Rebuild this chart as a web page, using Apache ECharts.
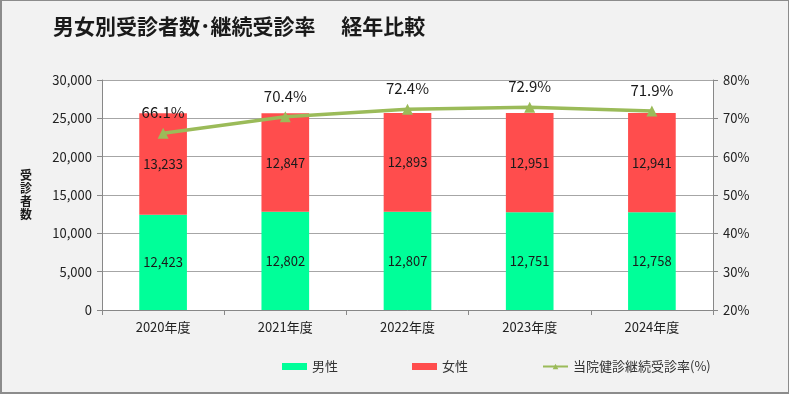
<!DOCTYPE html>
<html><head><meta charset="utf-8">
<script src="https://cdn.jsdelivr.net/npm/echarts@6/dist/echarts.min.js"></script>
<style>
html,body{margin:0;padding:0;background:#f2f2f2;}
#c{width:789px;height:394px;box-sizing:border-box;border:1px solid #8c8c8c;border-left-width:2px;border-bottom-width:2px;background:#f2f2f2;}
</style></head>
<body><div id="c"></div>
<script>
const categories = ['2020年度','2021年度','2022年度','2023年度','2024年度'];
const maleValues = [12423, 12802, 12807, 12751, 12758];
const femaleValues = [13233, 12847, 12893, 12951, 12941];
const rateValues = [66.1, 70.4, 72.4, 72.9, 71.9];
const leftTicks = [0, 30000, 5000];
const rightTicks = [20, 80, 10];

const font = '"Noto Sans CJK JP", "Noto Sans", sans-serif';
const chart = echarts.init(document.getElementById('c'));
chart.setOption({
  backgroundColor: '#f2f2f2',
  textStyle: {fontFamily: font},
  title: {
    text: '男女別受診者数･継続受診率　 経年比較',
    left: 46, top: 10,
    textStyle: {fontSize: 21, fontWeight: 'bold', color: '#1a1a1a', fontFamily: font}
  },
  legend: {
    bottom: 14, left: 275,
    itemGap: 74, itemWidth: 25, itemHeight: 7,
    textStyle: {fontSize: 13, color: '#333', fontFamily: font},
    data: [
      {name: '男性', icon: 'rect'},
      {name: '女性', icon: 'rect'},
      {name: '当院健診継続受診率(%)'}
    ]
  },
  grid: {left: 100, right: 75, top: 79, bottom: 82, backgroundColor: '#fff', show: true, borderWidth: 0},
  xAxis: {
    type: 'category', data: categories,
    axisLine: {lineStyle: {color: '#888'}},
    axisTick: {show: true, length: 5, lineStyle: {color: '#888'}},
    axisLabel: {fontSize: 13, color: '#222', margin: 11}
  },
  yAxis: [{
    type: 'value', min: leftTicks[0], max: leftTicks[1], interval: leftTicks[2],
    name: '受\n診\n者\n数', nameLocation: 'middle', nameRotate: 0, nameGap: 70,
    nameTextStyle: {fontSize: 12, fontWeight: 'bold', color: '#1a1a1a', lineHeight: 13, padding: [0, 0, 16, 0]},
    axisLine: {show: true, lineStyle: {color: '#888'}},
    axisTick: {show: true, length: 5, lineStyle: {color: '#888'}},
    axisLabel: {fontSize: 13, color: '#222', margin: 10,
      formatter: v => v.toLocaleString('en-US')},
    splitLine: {lineStyle: {color: '#a6a6a6'}}
  }, {
    type: 'value', min: rightTicks[0], max: rightTicks[1], interval: rightTicks[2],
    position: 'right',
    axisLine: {show: true, lineStyle: {color: '#888'}},
    axisTick: {show: true, length: 5, lineStyle: {color: '#888'}},
    axisLabel: {fontSize: 13, color: '#222', margin: 10, formatter: '{value}%'},
    splitLine: {show: false}
  }],
  series: [{
    name: '男性', type: 'bar', stack: 'total', data: maleValues,
    barWidth: '39%',
    itemStyle: {color: '#00ff99'},
    label: {show: true, position: 'inside', fontSize: 13, color: '#1a1a1a',
      formatter: p => p.value.toLocaleString('en-US')}
  }, {
    name: '女性', type: 'bar', stack: 'total', data: femaleValues,
    itemStyle: {color: '#ff4d4d'},
    label: {show: true, position: 'inside', fontSize: 13, color: '#1a1a1a',
      formatter: p => p.value.toLocaleString('en-US')}
  }, {
    name: '当院健診継続受診率(%)', type: 'line', yAxisIndex: 1, data: rateValues,
    symbol: 'triangle', symbolSize: 11,
    lineStyle: {color: '#9bbb59', width: 3.5},
    itemStyle: {color: '#9bbb59'},
    label: {show: true, position: 'top', distance: 8, fontSize: 15, color: '#1a1a1a',
      formatter: p => p.value.toFixed(1) + '%'},
    z: 5
  }]
});
</script></body></html>
